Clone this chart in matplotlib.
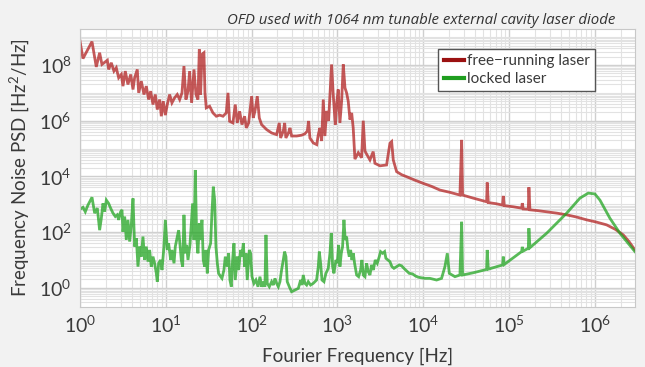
import numpy as np
import matplotlib
matplotlib.use('Agg')
import matplotlib.pyplot as plt
from matplotlib.ticker import LogLocator, NullFormatter, FixedLocator
from matplotlib.lines import Line2D

# values, as log10(frequency) and log10(PSD)
free_logf = [0.0, 0.035, 0.14, 0.19, 0.229, 0.256, 0.319, 0.334, 0.365, 0.396,
             0.423, 0.451, 0.482, 0.501, 0.528, 0.559, 0.591, 0.618, 0.637, 0.668,
             0.684, 0.715, 0.746, 0.773, 0.800, 0.824, 0.851, 0.878, 0.901, 0.929,
             0.948, 0.971, 0.995, 1.018, 1.045, 1.072, 1.103, 1.134, 1.162, 1.189,
             1.212, 1.235, 1.259, 1.278, 1.301, 1.329, 1.352, 1.375, 1.391, 1.406,
             1.422, 1.445, 1.457, 1.472, 1.511, 1.550, 1.589, 1.628, 1.667, 1.705,
             1.725, 1.744, 1.783, 1.810, 1.834, 1.861, 1.888, 1.919, 1.939, 1.966,
             2.001, 2.02, 2.04, 2.067, 2.09, 2.117, 2.176, 2.234, 2.292, 2.323,
             2.339, 2.37, 2.386, 2.40, 2.43, 2.448, 2.467, 2.526, 2.584, 2.622,
             2.65, 2.665, 2.68, 2.72, 2.76, 2.778, 2.797, 2.817, 2.836, 2.855,
             2.875, 2.898, 2.914, 2.933, 2.952, 2.976, 2.991, 3.01, 3.03, 3.05,
             3.069, 3.089, 3.108, 3.127, 3.147, 3.167, 3.185, 3.205, 3.244, 3.283,
             3.302, 3.322, 3.341, 3.38, 3.418, 3.438, 3.497, 3.574, 3.613, 3.633,
             3.652, 3.691, 3.75, 3.807, 3.90, 4.001, 4.10, 4.196, 4.31, 4.429,
             4.449, 4.46, 4.584, 4.74, 4.747, 4.76, 4.85, 4.926, 4.934, 4.946,
             5.05, 5.148, 5.156, 5.167, 5.226, 5.233, 5.245, 5.34, 5.44, 5.56,
             5.673, 5.79, 5.906, 6.02, 6.139, 6.24, 6.333, 6.40, 6.469]
free_logpsd = [8.86, 8.23, 8.84, 7.93, 8.44, 8.02, 8.17, 7.84, 8.08, 7.78,
               7.90, 7.54, 7.66, 7.24, 7.78, 7.30, 7.66, 7.12, 7.54, 7.84,
               7.00, 7.42, 6.94, 7.24, 6.76, 7.06, 6.58, 6.94, 6.40, 6.76,
               6.16, 6.70, 6.20, 6.58, 6.94, 6.64, 6.82, 6.94, 6.76, 7.00,
               7.96, 6.76, 7.06, 7.78, 6.64, 7.84, 6.94, 6.76, 8.56, 6.94,
               8.38, 8.44, 7.00, 6.46, 6.52, 6.28, 6.16, 6.20, 6.16, 6.28,
               7.00, 5.98, 5.92, 6.58, 5.92, 6.34, 5.86, 6.16, 5.74, 5.92,
               6.88, 6.10, 6.35, 6.88, 6.10, 5.86, 5.68, 5.56, 5.50, 5.92,
               5.38, 5.63, 5.92, 5.38, 5.56, 5.74, 5.45, 5.45, 5.48, 5.53,
               5.63, 5.99, 5.38, 5.20, 5.14, 5.50, 5.74, 5.27, 6.76, 5.45,
               6.35, 5.99, 6.94, 8.02, 6.94, 5.86, 6.58, 7.12, 5.92, 6.70,
               8.02, 7.18, 7.00, 6.70, 6.04, 6.28, 5.74, 4.62, 4.85, 4.67,
               6.00, 4.91, 4.80, 4.59, 4.89, 4.47, 4.38, 4.41, 5.19, 5.25,
               4.59, 4.17, 4.06, 3.99, 3.87, 3.75, 3.64, 3.51, 3.43, 3.33,
               5.31, 3.33, 3.22, 3.09, 3.78, 3.06, 3.02, 2.97, 3.30, 2.95,
               2.91, 2.86, 3.04, 2.83, 2.82, 3.61, 2.80, 2.77, 2.73, 2.68,
               2.62, 2.54, 2.44, 2.36, 2.26, 2.10, 1.90, 1.66, 1.36]

locked_logf = [0.0, 0.035, 0.062, 0.093, 0.140, 0.171, 0.202, 0.229, 0.249, 0.268,
               0.288, 0.307, 0.334, 0.357, 0.385, 0.412, 0.435, 0.451, 0.474, 0.490,
               0.501, 0.521, 0.540, 0.559, 0.579, 0.598, 0.618, 0.637, 0.657, 0.676,
               0.695, 0.715, 0.734, 0.754, 0.773, 0.793, 0.812, 0.831, 0.851, 0.870,
               0.890, 0.901, 0.917, 0.940, 0.956, 0.979, 0.995, 1.018, 1.033, 1.057,
               1.072, 1.096, 1.111, 1.134, 1.150, 1.166, 1.181, 1.197, 1.212, 1.228,
               1.243, 1.259, 1.282, 1.298, 1.313, 1.329, 1.344, 1.360, 1.375, 1.391,
               1.406, 1.422, 1.437, 1.453, 1.469, 1.484, 1.500, 1.523, 1.538, 1.554,
               1.570, 1.585, 1.601, 1.616, 1.640, 1.655, 1.678, 1.694, 1.717, 1.733,
               1.748, 1.764, 1.779, 1.795, 1.810, 1.834, 1.849, 1.873, 1.888, 1.904,
               1.919, 1.935, 1.950, 1.974, 1.989, 2.005, 2.028, 2.051, 2.075, 2.098,
               2.117, 2.137, 2.156, 2.168, 2.183, 2.207, 2.234, 2.253, 2.273, 2.292,
               2.312, 2.331, 2.350, 2.370, 2.385, 2.401, 2.416, 2.440, 2.467, 2.506,
               2.545, 2.572, 2.587, 2.603, 2.622, 2.642, 2.661, 2.688, 2.719, 2.758,
               2.778, 2.790, 2.805, 2.821, 2.844, 2.867, 2.894, 2.914, 2.929, 2.945,
               2.960, 2.984, 2.999, 3.015, 3.030, 3.046, 3.061, 3.077, 3.092, 3.108,
               3.124, 3.139, 3.155, 3.170, 3.186, 3.201, 3.225, 3.248, 3.271, 3.287,
               3.302, 3.322, 3.341, 3.360, 3.380, 3.399, 3.419, 3.442, 3.465, 3.489,
               3.504, 3.528, 3.551, 3.566, 3.590, 3.613, 3.636, 3.660, 3.691, 3.722,
               3.749, 3.776, 3.807, 3.838, 3.877, 3.908, 3.943, 3.982, 4.021, 4.079,
               4.157, 4.215, 4.254, 4.282, 4.305, 4.371, 4.429, 4.449, 4.46, 4.584,
               4.74, 4.747, 4.76, 4.926, 4.934, 4.946, 5.148, 5.156, 5.167, 5.226,
               5.233, 5.245, 5.44, 5.673, 5.828, 5.925, 6.002, 6.061, 6.177, 6.294,
               6.469]
locked_logpsd = [2.82, 2.89, 2.73, 2.97, 3.25, 2.68, 2.86, 2.07, 2.50, 3.03,
                 2.73, 3.15, 3.03, 2.86, 2.68, 2.56, 2.62, 2.44, 2.73, 2.80,
                 2.01, 2.56, 1.72, 2.44, 1.66, 2.26, 3.21, 1.48, 1.78, 0.76,
                 1.48, 1.12, 1.84, 1.00, 1.48, 0.94, 1.36, 0.76, 1.12, 0.88,
                 0.52, 0.22, 0.88, 1.00, 0.64, 1.48, 2.44, 1.36, 1.60, 1.00,
                 1.36, 0.88, 1.48, 1.84, 2.07, 1.54, 1.00, 0.76, 2.62, 1.24,
                 1.54, 1.00, 1.54, 2.32, 3.03, 1.72, 4.23, 1.84, 1.24, 2.32,
                 1.72, 2.44, 1.00, 0.76, 1.36, 0.52, 1.36, 1.60, 2.68, 3.63,
                 3.15, 1.48, 0.88, 0.52, 0.40, 0.34, 0.64, 1.12, 0.76, 1.24,
                 0.28, 0.04, 1.00, 1.60, 0.28, 1.12, 0.64, 1.36, 1.12, 1.60,
                 0.76, 1.24, 0.28, 1.36, 1.24, 0.40, 0.16, 0.28, 0.04, 0.40,
                 0.04, 0.22, 0.04, 1.90, 0.16, 0.04, 0.22, 0.10, 0.34, 0.16,
                 0.04, 0.22, 0.64, 1.00, 1.30, 1.12, 0.22, 0.04, -0.14, -0.08,
                 -0.02, 0.28, 0.10, 0.46, 0.16, 0.10, 0.22, 0.10, 0.16, 0.28,
                 0.76, 1.30, 0.88, 0.28, 0.22, 0.52, 0.70, 1.24, 1.96, 0.76,
                 0.52, 1.00, 0.88, 1.54, 0.76, 1.24, 1.48, 2.44, 1.72, 1.84,
                 1.36, 1.12, 1.36, 1.00, 1.24, 0.88, 0.46, 0.40, 0.64, 1.00,
                 0.46, 0.40, 0.88, 0.58, 0.46, 0.82, 0.64, 1.00, 0.88, 1.12,
                 1.30, 1.24, 1.30, 1.06, 1.00, 0.94, 0.76, 0.70, 0.76, 0.82,
                 0.79, 0.70, 0.61, 0.52, 0.50, 0.43, 0.38, 0.36, 0.34, 0.34,
                 0.28, 0.34, 0.76, 1.24, 0.52, 0.40, 0.46, 2.37, 0.46, 0.54,
                 0.66, 1.36, 0.67, 0.82, 1.12, 0.84, 1.30, 1.47, 1.32, 1.42,
                 2.14, 1.44, 1.96, 2.68, 3.22, 3.40, 3.37, 3.15, 2.50, 1.96,
                 1.30]

x_ticks = [1e0, 1e1, 1e2, 1e3, 1e4, 1e5, 1e6]
y_ticks = [1e0, 1e2, 1e4, 1e6, 1e8]

plt.rcParams['font.family'] = ['Lato', 'DejaVu Sans']
plt.rcParams['mathtext.fontset'] = 'custom'
plt.rcParams['mathtext.rm'] = 'Lato'
plt.rcParams['mathtext.it'] = 'Lato:italic'

txt = '#3a3a3a'
fig = plt.figure(figsize=(6.45, 3.67), dpi=100, facecolor='#f2f2f2')
ax = fig.add_axes([0.124, 0.1643, 0.8605, 0.7557])
ax.set_facecolor('white')

ax.plot(10 ** np.array(free_logf), 10 ** np.array(free_logpsd),
        color='#b22222', alpha=0.75, lw=2.0, solid_joinstyle='miter')
ax.plot(10 ** np.array(locked_logf), 10 ** np.array(locked_logpsd),
        color='#22a522', alpha=0.75, lw=2.0, solid_joinstyle='miter')

ax.set_xscale('log')
ax.set_yscale('log')
ax.set_xlim(1, 2.95e6)
ax.set_ylim(0.21, 1.9e9)

ax.xaxis.set_major_locator(FixedLocator(x_ticks))
ax.yaxis.set_major_locator(FixedLocator(y_ticks))
ax.set_xticklabels([r'$10^{%d}$' % i for i in range(7)])
ax.set_yticklabels([r'$10^{%d}$' % i for i in range(0, 10, 2)])
ax.xaxis.set_minor_locator(LogLocator(base=10, subs=np.arange(1, 10), numticks=30))
ax.yaxis.set_minor_locator(LogLocator(base=10, subs=np.arange(1, 10), numticks=30))
ax.xaxis.set_minor_formatter(NullFormatter())
ax.yaxis.set_minor_formatter(NullFormatter())
ax.tick_params(which='both', length=0, labelsize=14, colors=txt, pad=6)

ax.grid(which='major', color='#cfcfcf', lw=1.0)
ax.grid(which='minor', color='#e2e2e2', lw=0.8)
ax.set_axisbelow(True)
for s in ax.spines.values():
    s.set_color('#c8c8c8')

ax.set_xlabel('Fourier Frequency [Hz]', fontsize=13.5, color=txt, labelpad=8)
ax.set_ylabel('Frequency Noise PSD [Hz$^2$/Hz]', fontsize=13.5, color=txt, labelpad=6)

fig.text(0.653, 0.945, 'OFD used with 1064 nm tunable external cavity laser diode',
         ha='center', va='center', fontsize=10.8, style='italic', color='#333333',
         family=['Open Sans', 'DejaVu Sans'])

handles = [Line2D([], [], color='#9b1111', lw=3),
           Line2D([], [], color='#1f9e1f', lw=3)]
leg = ax.legend(handles, ['free\u2212running laser', 'locked laser'],
                loc='upper left', bbox_to_anchor=(0.632, 0.957), fontsize=11,
                handlelength=1.3, handletextpad=0.2, borderpad=0.35,
                labelspacing=0.25, fancybox=False, framealpha=1, labelcolor=txt)
leg.get_frame().set_edgecolor('#555555')
leg.get_frame().set_linewidth(1.0)

fig.savefig('out.png', dpi=100, facecolor=fig.get_facecolor())
